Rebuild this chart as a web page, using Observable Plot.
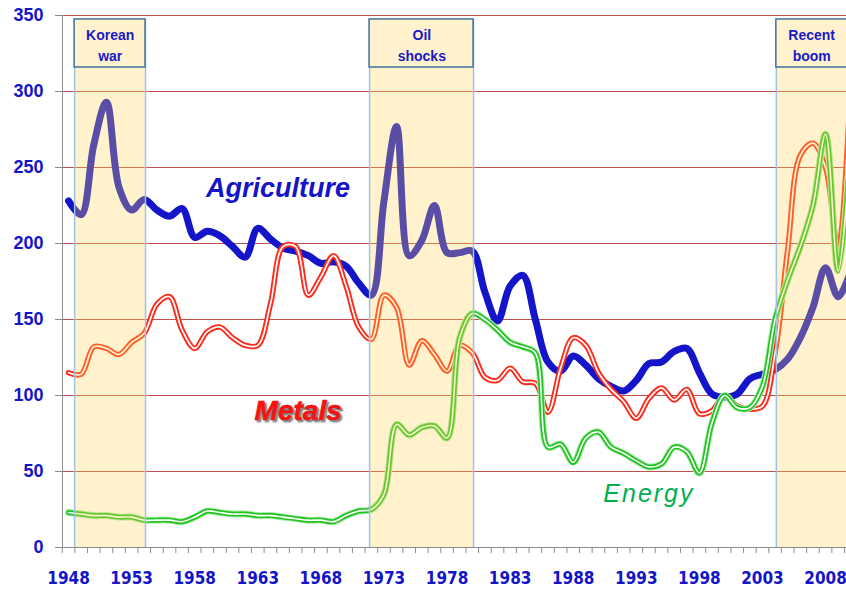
<!DOCTYPE html>
<html>
<head>
<meta charset="utf-8">
<script src="https://cdn.jsdelivr.net/npm/d3@7"></script>
<script src="https://cdn.jsdelivr.net/npm/@observablehq/plot@0.6"></script>
<style>
  html, body { margin: 0; padding: 0; background: #fff; }
  #chart svg { display: block; }
</style>
</head>
<body>
<div id="chart"></div>
<script>
// ---- data ----
const years = [1948,1949,1950,1951,1952,1953,1954,1955,1956,1957,1958,1959,1960,1961,1962,1963,1964,1965,1966,1967,1968,1969,1970,1971,1972,1973,1974,1975,1976,1977,1978,1979,1980,1981,1982,1983,1984,1985,1986,1987,1988,1989,1990,1991,1992,1993,1994,1995,1996,1997,1998,1999,2000,2001,2002,2003,2004,2005,2006,2007,2008,2009,2010];

const agriculture = [228,219,265,293,237,222,229,222,218,223,204,208,205,198,191,210,203,197,195,192,187,188,185,174,166,228,277,192,202,225,194,194,195,168,149,172,179,150,122,116,126,120,111,106,103,110,121,122,129,131,115,101,99,101,111,114,117,124,138,158,184,165,182];

const metals = [115,114,132,131,127,135,141,160,165,143,131,142,145,138,133,133,160,198,198,166,178,192,172,145,137,166,158,120,136,127,116,133,128,112,110,118,109,108,89,118,138,133,115,104,96,85,98,105,97,104,88,90,100,93,91,93,128,196,258,266,250,197,310];

const energy = [23,22,21,21,20,20,18,18,18,17,20,24,23,22,22,21,21,20,19,18,18,17,21,24,25,35,81,74,79,80,72,138,154,150,143,135,132,128,66,68,56,72,76,66,62,57,53,55,66,63,49,82,100,92,92,106,150,176,198,225,272,182,265];

const yTicks = [0,50,100,150,200,250,300,350];
const xLabelYears = [1948,1953,1958,1963,1968,1973,1978,1983,1988,1993,1998,2003,2008];

// shaded periods (start, end in years) and their labels
const periodLabels = ["Korean\nwar", "Oil\nshocks", "Recent\nboom"];
const periodStart = [1948.48, 1971.86, 2004.1];
const periodEnd = [1954.1, 1980.1, 2011];
const periodLabelYear = [1951.3, 1976.0, 2006.9];

// series labels
const seriesNames = ["Agriculture", "Metals", "Energy"];
const seriesLabelYear = [1964.6, 1966.2, 1994.0];
const seriesLabelValue = [236, 89.5, 35.5];

// ---- build tables ----
const rows = (vals) => years.map((yr, i) => ({year: yr, value: vals[i]}));
const agri = rows(agriculture), met = rows(metals), ene = rows(energy);
const periods = periodLabels.map((label, i) => ({label, x1: periodStart[i], x2: periodEnd[i], xm: periodLabelYear[i]}));
const labels = seriesNames.map((name, i) => ({name, x: seriesLabelYear[i], y: seriesLabelValue[i]}));
const boundaries = d3.range(years[0] - 0.5, 2010, 1);

const xDomain = [1947.52, 2009.66];
const boxBottom = 315.8, boxTop = 347.4;
const BLUE = "#1414c8";
const GRID = "#c0504d";
const curve = "catmull-rom";

const chart = Plot.plot({
  width: 846,
  height: 595,
  marginLeft: 62,
  marginRight: 0,
  marginTop: 15,
  marginBottom: 48,
  x: {domain: xDomain},
  y: {domain: [0, 350]},
  style: {background: "#fff", overflow: "visible"},
  marks: [
    // gridlines
    Plot.ruleY(yTicks.filter(d => d > 0), {stroke: GRID, strokeWidth: 1}),
    // y axis
    Plot.axisY(yTicks, {tickSize: 7, tickPadding: 12, stroke: "#8c8c8c", fill: BLUE, fontSize: 18, fontWeight: "bold", fontFamily: "Liberation Sans, Arial, sans-serif", tickFormat: d => String(d)}),
    // x axis minor ticks
    Plot.axisX(boundaries, {tickSize: 6, stroke: "#8c8c8c", tickFormat: () => ""}),
    // x axis labels
    Plot.axisX(xLabelYears, {tickSize: 0, tickPadding: 24, fill: BLUE, fontSize: 17, fontWeight: "bold", fontFamily: "Liberation Sans Narrow, DejaVu Sans Condensed, Arial Narrow, sans-serif", tickFormat: d => String(d)}),
    Plot.ruleY([0], {stroke: "#8c8c8c"}),
    Plot.ruleX([xDomain[0]], {stroke: "#8c8c8c"}),

    // Agriculture
    Plot.line(agri, {x: "year", y: "value", stroke: BLUE, strokeWidth: 7, curve, clip: true}),
    // Metals
    Plot.line(met, {x: "year", y: "value", stroke: "#ff2a1a", strokeWidth: 5.5, curve, clip: true}),
    Plot.line(met, {x: "year", y: "value", stroke: "#ffffff", strokeWidth: 1.7, curve, clip: true}),
    // Energy
    Plot.line(ene, {x: "year", y: "value", stroke: "#a8eca8", strokeWidth: 7, curve, clip: true}),
    Plot.line(ene, {x: "year", y: "value", stroke: "#22c322", strokeWidth: 5, curve, clip: true}),
    Plot.line(ene, {x: "year", y: "value", stroke: "#ffffff", strokeWidth: 1.6, curve, clip: true}),

    // shaded periods (drawn over the lines, translucent)
    Plot.rect(periods, {x1: "x1", x2: "x2", y1: 0, y2: boxTop, fill: "#ffd455", fillOpacity: 0.3, clip: true}),
    Plot.ruleX(periods, {x: "x1", y1: 0, y2: boxTop, stroke: "#9dc3e6", strokeWidth: 1.5, clip: true}),
    Plot.ruleX(periods, {x: "x2", y1: 0, y2: boxTop, stroke: "#9dc3e6", strokeWidth: 1.5, clip: true}),
    Plot.rect(periods, {x1: "x1", x2: "x2", y1: boxBottom, y2: boxTop, fill: "#fff2cc", stroke: "#41719c", strokeWidth: 1.5, clip: true}),
    Plot.text(periods, {x: "xm", y: (boxBottom + boxTop) / 2, text: "label", fill: "#1a1ac8", fontSize: 14, fontWeight: "bold", lineHeight: 1.55, fontFamily: "Liberation Sans, Arial, sans-serif"}),

    // series labels
    Plot.text(labels.filter(d => d.name === "Agriculture"), {x: "x", y: "y", text: "name", fill: BLUE, fontSize: 27, fontWeight: "bold", fontStyle: "italic", fontFamily: "Liberation Sans, Arial, sans-serif"}),
    Plot.text(labels.filter(d => d.name === "Metals"), {x: "x", y: "y", text: "name", fill: "#ff1010", stroke: "#c00000", strokeWidth: 0.6, fontSize: 28, fontWeight: "bold", fontStyle: "italic", fontFamily: "Liberation Sans, Arial, sans-serif", className: "metals-label"}),
    Plot.text(labels.filter(d => d.name === "Energy"), {x: "x", y: "y", text: "name", fill: "#00b050", fontSize: 25, fontStyle: "italic", fontFamily: "Liberation Sans, Arial, sans-serif", className: "energy-label"})
  ]
});
document.getElementById("chart").appendChild(chart);

// text effects: shadow on "Metals", letter-spacing on "Energy"
d3.select(chart).selectAll("text").each(function() {
  const t = d3.select(this);
  const s = t.text();
  if (s === "Metals") t.style("text-shadow", "2px 2px 1.5px rgba(90,90,90,0.75)");
  if (s === "Energy") t.style("letter-spacing", "2px");
});
</script>
</body>
</html>
